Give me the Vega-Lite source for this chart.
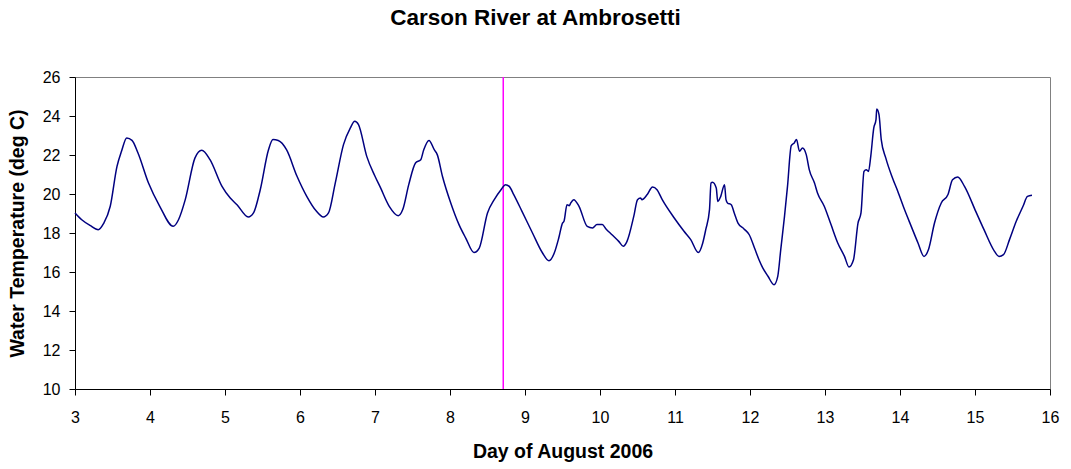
{
  "$schema": "https://vega.github.io/schema/vega-lite/v6.json",
  "autosize": "none",
  "width": 975,
  "height": 312,
  "padding": {"left": 75, "top": 77, "right": 21, "bottom": 80},
  "background": "white",
  "config": {
    "font": "Liberation Sans",
    "view": {"stroke": "#808080", "strokeWidth": 1}
  },
  "title": {
    "text": "Carson River at Ambrosetti",
    "fontSize": 22.5,
    "fontWeight": "bold",
    "font": "Liberation Sans",
    "color": "black",
    "anchor": "middle",
    "offset": 40,
    "dx": -27
  },
  "datasets": {
    "temp": [
      {"day": 3.0, "t": 19.03}, {"day": 3.09, "t": 18.68}, {"day": 3.2, "t": 18.39}, {"day": 3.31, "t": 18.17},
      {"day": 3.38, "t": 18.48}, {"day": 3.47, "t": 19.37}, {"day": 3.56, "t": 21.42}, {"day": 3.62, "t": 22.19},
      {"day": 3.69, "t": 22.87}, {"day": 3.76, "t": 22.75}, {"day": 3.84, "t": 22.1}, {"day": 3.98, "t": 20.56},
      {"day": 4.13, "t": 19.37}, {"day": 4.31, "t": 18.34}, {"day": 4.38, "t": 18.68}, {"day": 4.47, "t": 19.71},
      {"day": 4.6, "t": 21.85}, {"day": 4.69, "t": 22.24}, {"day": 4.8, "t": 21.76}, {"day": 4.96, "t": 20.39},
      {"day": 5.07, "t": 19.79}, {"day": 5.16, "t": 19.45}, {"day": 5.31, "t": 18.82}, {"day": 5.38, "t": 19.03},
      {"day": 5.47, "t": 20.22}, {"day": 5.58, "t": 22.27}, {"day": 5.64, "t": 22.79}, {"day": 5.71, "t": 22.74},
      {"day": 5.82, "t": 22.27}, {"day": 5.96, "t": 20.91}, {"day": 6.09, "t": 19.88}, {"day": 6.22, "t": 19.11},
      {"day": 6.31, "t": 18.82}, {"day": 6.38, "t": 19.03}, {"day": 6.47, "t": 20.56}, {"day": 6.58, "t": 22.53},
      {"day": 6.67, "t": 23.38}, {"day": 6.73, "t": 23.73}, {"day": 6.78, "t": 23.56}, {"day": 6.89, "t": 21.93},
      {"day": 7.0, "t": 20.91}, {"day": 7.07, "t": 20.35}, {"day": 7.19, "t": 19.37}, {"day": 7.31, "t": 18.89},
      {"day": 7.37, "t": 19.2}, {"day": 7.45, "t": 20.48}, {"day": 7.54, "t": 21.59}, {"day": 7.61, "t": 21.76},
      {"day": 7.65, "t": 22.27}, {"day": 7.72, "t": 22.75}, {"day": 7.79, "t": 22.27}, {"day": 7.83, "t": 22.02},
      {"day": 7.9, "t": 20.9}, {"day": 8.01, "t": 19.54}, {"day": 8.12, "t": 18.43}, {"day": 8.21, "t": 17.74},
      {"day": 8.32, "t": 17.0}, {"day": 8.39, "t": 17.23}, {"day": 8.5, "t": 19.03}, {"day": 8.59, "t": 19.71},
      {"day": 8.68, "t": 20.22}, {"day": 8.74, "t": 20.48}, {"day": 8.79, "t": 20.39}, {"day": 8.85, "t": 19.97},
      {"day": 8.96, "t": 19.11}, {"day": 9.1, "t": 18.0}, {"day": 9.23, "t": 17.0}, {"day": 9.32, "t": 16.58},
      {"day": 9.39, "t": 16.97}, {"day": 9.45, "t": 17.74}, {"day": 9.5, "t": 18.51}, {"day": 9.52, "t": 18.6},
      {"day": 9.56, "t": 19.45}, {"day": 9.59, "t": 19.4}, {"day": 9.61, "t": 19.54}, {"day": 9.65, "t": 19.71},
      {"day": 9.72, "t": 19.37}, {"day": 9.83, "t": 18.34}, {"day": 9.9, "t": 18.26}, {"day": 9.96, "t": 18.43},
      {"day": 10.03, "t": 18.43}, {"day": 10.08, "t": 18.21}, {"day": 10.16, "t": 17.91}, {"day": 10.25, "t": 17.57},
      {"day": 10.31, "t": 17.32}, {"day": 10.36, "t": 17.57}, {"day": 10.45, "t": 18.85}, {"day": 10.5, "t": 19.71},
      {"day": 10.54, "t": 19.8}, {"day": 10.56, "t": 19.71}, {"day": 10.63, "t": 19.97}, {"day": 10.7, "t": 20.36},
      {"day": 10.76, "t": 20.22}, {"day": 10.83, "t": 19.71}, {"day": 10.99, "t": 18.77}, {"day": 11.12, "t": 18.09},
      {"day": 11.21, "t": 17.66}, {"day": 11.31, "t": 17.0}, {"day": 11.37, "t": 17.49}, {"day": 11.41, "t": 18.17},
      {"day": 11.46, "t": 19.2}, {"day": 11.48, "t": 20.56}, {"day": 11.5, "t": 20.6}, {"day": 11.55, "t": 20.31},
      {"day": 11.57, "t": 19.62}, {"day": 11.61, "t": 19.88}, {"day": 11.66, "t": 20.48}, {"day": 11.68, "t": 19.71},
      {"day": 11.7, "t": 19.54}, {"day": 11.75, "t": 19.45}, {"day": 11.79, "t": 19.03}, {"day": 11.84, "t": 18.51},
      {"day": 11.92, "t": 18.21}, {"day": 11.99, "t": 17.91}, {"day": 12.06, "t": 17.23}, {"day": 12.12, "t": 16.63},
      {"day": 12.17, "t": 16.21}, {"day": 12.24, "t": 15.78}, {"day": 12.32, "t": 15.35}, {"day": 12.37, "t": 15.78},
      {"day": 12.41, "t": 17.15}, {"day": 12.46, "t": 18.85}, {"day": 12.5, "t": 20.39}, {"day": 12.55, "t": 22.48},
      {"day": 12.59, "t": 22.62}, {"day": 12.62, "t": 22.79}, {"day": 12.66, "t": 22.19}, {"day": 12.7, "t": 22.36},
      {"day": 12.75, "t": 22.02}, {"day": 12.79, "t": 21.25}, {"day": 12.86, "t": 20.56}, {"day": 12.9, "t": 20.05},
      {"day": 12.99, "t": 19.37}, {"day": 13.08, "t": 18.43}, {"day": 13.17, "t": 17.49}, {"day": 13.26, "t": 16.8},
      {"day": 13.32, "t": 16.26}, {"day": 13.38, "t": 16.63}, {"day": 13.44, "t": 18.51}, {"day": 13.48, "t": 19.03},
      {"day": 13.52, "t": 21.16}, {"day": 13.55, "t": 21.25}, {"day": 13.58, "t": 21.16}, {"day": 13.61, "t": 21.93},
      {"day": 13.65, "t": 23.38}, {"day": 13.68, "t": 23.81}, {"day": 13.69, "t": 24.36}, {"day": 13.72, "t": 24.07},
      {"day": 13.75, "t": 22.79}, {"day": 13.81, "t": 21.85}, {"day": 13.9, "t": 20.82}, {"day": 13.97, "t": 20.14},
      {"day": 14.06, "t": 19.2}, {"day": 14.15, "t": 18.34}, {"day": 14.24, "t": 17.49}, {"day": 14.32, "t": 16.8},
      {"day": 14.38, "t": 17.15}, {"day": 14.46, "t": 18.51}, {"day": 14.55, "t": 19.54}, {"day": 14.64, "t": 19.97},
      {"day": 14.7, "t": 20.73}, {"day": 14.77, "t": 20.87}, {"day": 14.86, "t": 20.39}, {"day": 15.01, "t": 19.11},
      {"day": 15.12, "t": 18.17}, {"day": 15.26, "t": 17.06}, {"day": 15.32, "t": 16.8}, {"day": 15.38, "t": 16.89},
      {"day": 15.46, "t": 17.66}, {"day": 15.55, "t": 18.6}, {"day": 15.64, "t": 19.37}, {"day": 15.7, "t": 19.88},
      {"day": 15.76, "t": 19.93}
    ],
    "marker": [{"day": 8.71}]
  },
  "layer": [
    {
      "data": {"name": "marker"},
      "mark": {"type": "rule", "color": "#FF00FF", "strokeWidth": 1.5},
      "encoding": {
        "x": {"field": "day", "type": "quantitative", "scale": {"domain": [3, 16]}}
      }
    },
    {
      "data": {"name": "temp"},
      "mark": {"type": "line", "color": "#000080", "strokeWidth": 1.5, "interpolate": "monotone"},
      "encoding": {
        "x": {
          "field": "day", "type": "quantitative",
          "scale": {"domain": [3, 16], "nice": false, "zero": false},
          "axis": {
            "title": "Day of August 2006",
            "values": [3,4,5,6,7,8,9,10,11,12,13,14,15,16],
            "format": "d",
            "grid": false,
            "domainColor": "black",
            "tickColor": "black",
            "tickSize": 6,
            "labelFontSize": 16,
            "labelPadding": 14,
            "labelColor": "black",
            "titleFontSize": 19.5,
            "titleFontWeight": "bold",
            "titleColor": "black",
            "titlePadding": 17,
            "labelFlush": false
          }
        },
        "y": {
          "field": "t", "type": "quantitative",
          "scale": {"domain": [10, 26], "nice": false, "zero": false},
          "axis": {
            "title": "Water Temperature (deg C)",
            "values": [10,12,14,16,18,20,22,24,26],
            "format": "d",
            "grid": false,
            "domainColor": "black",
            "tickColor": "black",
            "tickSize": 6,
            "labelFontSize": 16,
            "labelPadding": 9,
            "labelColor": "black",
            "titleFontSize": 19.5,
            "titleFontWeight": "bold",
            "titleColor": "black",
            "titlePadding": 15,
            "labelFlush": false
          }
        }
      }
    }
  ]
}
